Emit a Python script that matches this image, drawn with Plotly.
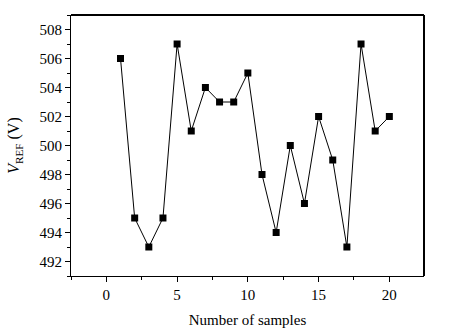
import plotly.graph_objects as go

samples = list(range(1, 21))
vref = [506, 495, 493, 495, 507, 501, 504, 503, 503, 505,
        498, 494, 500, 496, 502, 499, 493, 507, 501, 502]

x_ticks = [0, 5, 10, 15, 20]
y_ticks = [492, 494, 496, 498, 500, 502, 504, 506, 508]

family = "Times New Roman, Liberation Serif, serif"
font = dict(family=family, size=15, color="black")

fig = go.Figure(go.Scatter(
    x=samples, y=vref, mode="lines+markers",
    line=dict(color="black", width=1),
    marker=dict(symbol="square", size=7, color="black"),
))

fig.update_layout(
    width=464, height=328,
    margin=dict(l=71, r=40, t=15, b=52),
    paper_bgcolor="white", plot_bgcolor="white",
    showlegend=False,
    font=font,
    xaxis=dict(
        range=[-2.5, 22.45], tickvals=x_ticks, ticks="outside", ticklen=5,
        tickcolor="black", showline=True, linecolor="black", linewidth=1,
        showgrid=False, zeroline=False, automargin=False,
        minor=dict(ticks="outside", ticklen=3, tickcolor="black", dtick=2.5, tick0=0),
        title=dict(text="Number of samples", font=font),
        tickfont=font,
    ),
    yaxis=dict(
        range=[491, 509], tickvals=y_ticks, ticks="outside", ticklen=5,
        tickcolor="black", showline=True, linecolor="black", linewidth=1,
        showgrid=False, zeroline=False, automargin=False,
        minor=dict(ticks="outside", ticklen=3, tickcolor="black", dtick=1, tick0=491),
        title=dict(text="<i>V</i><sub>REF</sub> (V)", font=dict(family=family, size=16, color="black")),
        tickfont=font,
    ),
    shapes=[
        dict(type="line", xref="paper", yref="paper", x0=0, x1=1, y0=1, y1=1,
             line=dict(color="black", width=2)),
        dict(type="line", xref="paper", yref="paper", x0=1, x1=1, y0=0, y1=1,
             line=dict(color="black", width=2)),
    ],
)

fig.write_html("out.html")
